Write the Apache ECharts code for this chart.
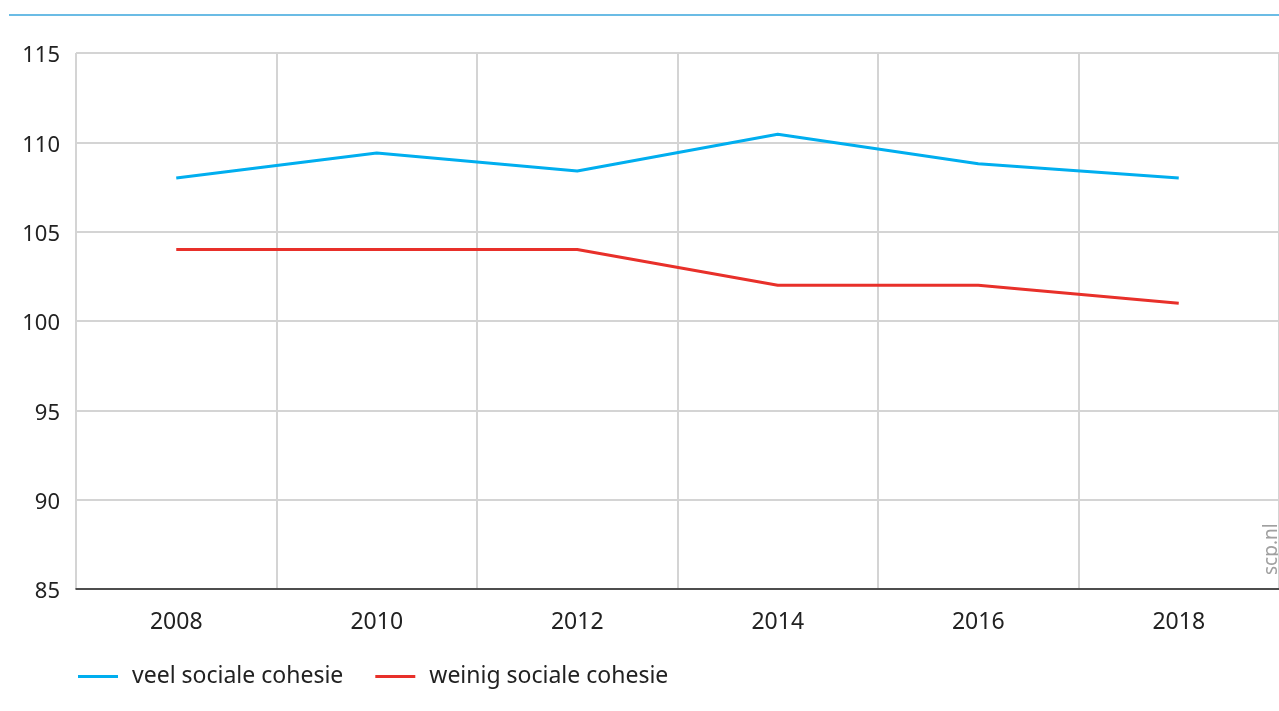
<!DOCTYPE html>
<html><head><meta charset="utf-8">
<script src="https://cdn.jsdelivr.net/npm/echarts@6/dist/echarts.min.js"></script>
<style>html,body{margin:0;padding:0;background:#fff}#c{width:1279px;height:711px}</style>
</head><body><div id="c"></div>
<script>
const years = ['2008','2010','2012','2014','2016','2018'];
const veel = [108, 109.4, 108.4, 110.45, 108.8, 108];
const weinig = [104, 104, 104, 102, 102, 101];
const yTicks = {min: 85, max: 115, interval: 5};
const names = ['veel sociale cohesie', 'weinig sociale cohesie'];
const colors = ['#00aeef', '#e8302a'];
const FONT = 'Noto Sans';

const chart = echarts.init(document.getElementById('c'));
chart.setOption({
  animation: false,
  textStyle: {fontFamily: FONT},
  grid: {left: 76, right: 0, top: 53, bottom: 122},
  legend: {
    left: 73, top: 660, itemWidth: 40, itemHeight: 3, itemGap: 32,
    icon: 'rect',
    textStyle: {fontSize: 23, color: '#222', fontFamily: FONT, padding: [0,0,0,9]},
    data: names
  },
  graphic: [
    {type: 'line', shape: {x1: 9, y1: 15, x2: 1279, y2: 15}, style: {stroke: '#3aa6dc', lineWidth: 1.5}},
    {type: 'text', x: 1262, y: 575, rotation: Math.PI/2,
     style: {text: 'scp.nl', fill: '#a0a0a0', font: '19px "Noto Sans"', textAlign: 'left', textVerticalAlign: 'top'}}
  ],
  xAxis: {
    type: 'category', data: years, boundaryGap: true,
    axisLine: {lineStyle: {color: '#222', width: 1.5}},
    axisTick: {alignWithLabel: true, length: 7, lineStyle: {color: '#222', width: 1.5}},
    axisLabel: {fontSize: 23, color: '#222', margin: 22},
    splitLine: {show: true, lineStyle: {color: '#d4d4d4', width: 2}}
  },
  yAxis: {
    type: 'value', min: yTicks.min, max: yTicks.max, interval: yTicks.interval,
    axisLine: {show: false}, axisTick: {show: false},
    axisLabel: {fontSize: 22, color: '#222', margin: 16, verticalAlign: 'top', lineHeight: 6},
    splitLine: {lineStyle: {color: '#d4d4d4', width: 2}}
  },
  series: [
    {name: names[0], type: 'line', data: veel, symbol: 'none', lineStyle: {width: 3, color: colors[0]}, itemStyle: {color: colors[0]}},
    {name: names[1], type: 'line', data: weinig, symbol: 'none', lineStyle: {width: 3, color: colors[1]}, itemStyle: {color: colors[1]}}
  ]
});
</script></body></html>
